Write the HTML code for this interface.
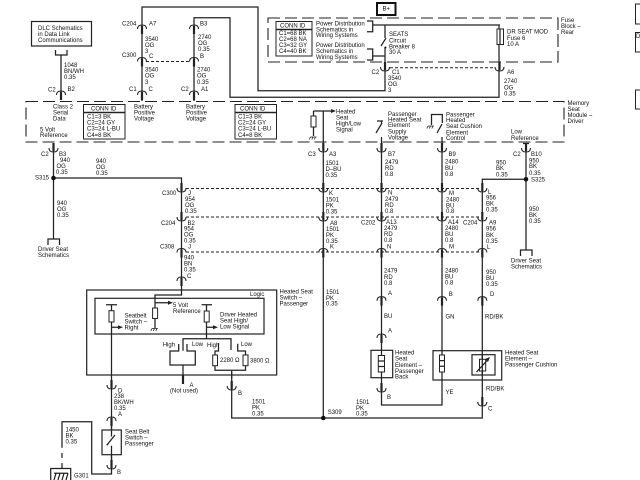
<!DOCTYPE html>
<html><head><meta charset="utf-8"><style>
html,body{margin:0;padding:0;background:#fff;width:640px;height:480px;overflow:hidden}
svg{display:block;filter:blur(.3px)}
text{font-family:"Liberation Sans",sans-serif;font-size:6px;fill:#111}
.w{fill:none;stroke:#222;stroke-width:1.25}
.b{fill:none;stroke:#222;stroke-width:1.25}
.d{fill:none;stroke:#222;stroke-width:1;stroke-dasharray:3 2}
.m{fill:none;stroke:#222;stroke-width:1.1;stroke-dasharray:12 5}
.r{fill:#fff;stroke:#222;stroke-width:1}
</style></head><body>
<svg width="640" height="480" viewBox="0 0 640 480" xmlns="http://www.w3.org/2000/svg">
<defs>
<g id="u"><path d="M-4.5,4Q-4.5,0 0,0Q4.5,0 4.5,4" fill="none" stroke="#222" stroke-width="1.1"/><path d="M0,1V9" stroke="#222" stroke-width="2.2"/></g>
<g id="n"><path d="M-4.5,-4Q-4.5,0 0,0Q4.5,0 4.5,-4" fill="none" stroke="#222" stroke-width="1.1"/><path d="M0,-9V-1" stroke="#222" stroke-width="2.2"/></g>
<g id="gnd"><path d="M-3,0H3M-3,0l-1.2,2.5M-.5,0l-1.2,2.5M2,0l-1.2,2.5" fill="none" stroke="#222" stroke-width=".8"/></g>
<path id="ar" d="M0,-2L5,0L0,2Z" fill="#222"/>
</defs>
<rect width="640" height="480" fill="#fff"/>

<!-- main wires -->
<path class="w" d="M142,25V7H258V90.7H385V47M385,25V38M194,25V17.7H230V97.3H499V25M372.7,25H500M372.7,56H385"/>
<path class="w" d="M142,25V101M194,25V101M61,55V92"/>
<path class="w" d="M53.5,143V239M53.5,178H181.5V295H155V328M526,143V250M526,179.3H482.3V405"/>
<path class="w" d="M323.3,111V418M381.5,137V405H442V137M231.7,372V418H482.3V405"/>
<path class="w" d="M111.5,305V436.7M111.5,445.7V474H91.7V421.7H62V447.7M62,453V458M62,463V468"/>

<!-- dashed -->
<path class="d" d="M146,61.5H190M390,67.7H495"/>
<path class="d" d="M186,188.5H480M186,217H480M186,252H480"/>
<path class="m" d="M268,18H558V62H268ZM558,18V62"/>
<path class="m" d="M26,101.5H564V142H26Z"/>

<!-- connectors -->
<use href="#u" x="142" y="25"/><use href="#u" x="194" y="25"/>
<use href="#u" x="142" y="57.5"/><use href="#u" x="194" y="57.5"/>
<use href="#u" x="142" y="91"/><use href="#u" x="194" y="91"/><use href="#u" x="61" y="91"/>
<use href="#n" x="385" y="71"/><use href="#n" x="499.5" y="71"/>
<use href="#n" x="53.5" y="152"/><use href="#n" x="323.3" y="152"/><use href="#n" x="381.5" y="152"/><use href="#n" x="442" y="152"/><use href="#n" x="526" y="152"/>
<use href="#n" x="181.5" y="192"/><use href="#n" x="323.3" y="192"/><use href="#n" x="381.5" y="192"/><use href="#n" x="442" y="192"/><use href="#n" x="482.3" y="192"/>
<use href="#n" x="181.5" y="221"/><use href="#n" x="323.3" y="221"/><use href="#n" x="381.5" y="221"/><use href="#n" x="442" y="221"/><use href="#n" x="482.3" y="221"/>
<use href="#u" x="181.5" y="248.5"/><use href="#u" x="323.3" y="248.5"/><use href="#u" x="381.5" y="248.5"/><use href="#u" x="442" y="248.5"/><use href="#u" x="482.3" y="248.5"/>
<use href="#u" x="181.5" y="277"/>
<use href="#u" x="381.5" y="296.7"/><use href="#u" x="442" y="296.7"/><use href="#u" x="482.3" y="296.7"/>
<use href="#u" x="381.5" y="334"/>
<use href="#n" x="381.5" y="392"/><use href="#n" x="482.3" y="406"/>
<use href="#n" x="111.5" y="389"/><use href="#n" x="231.7" y="390"/>
<use href="#u" x="111.5" y="417"/><use href="#n" x="111.5" y="469"/>

<!-- nodes -->
<circle cx="53.5" cy="178" r="2.3" fill="#111"/><circle cx="526" cy="179.3" r="2.3" fill="#111"/><circle cx="323.3" cy="418" r="2.3" fill="#111"/>

<!-- DLC -->
<rect x="31.5" y="21.5" width="60" height="24.5" fill="#fff" stroke="#222" stroke-width="1.2"/>
<path class="b" d="M55.5,50V55H67V50"/>
<!-- driver seat brackets -->
<path class="b" d="M48,245V239H59.5V245M520.5,256V250H532V256"/>

<!-- B+ -->
<rect x="377" y="3" width="18.5" height="12" fill="#fff" stroke="#111" stroke-width="2"/>

<!-- conn boxes -->
<rect x="83.5" y="104.5" width="41.5" height="34.5" class="r"/><path d="M83.5,112.5H125" stroke="#222" stroke-width="1.6"/>
<rect x="235" y="104.5" width="41.5" height="34.5" class="r"/><path d="M235,112.5H276.5" stroke="#222" stroke-width="1.6"/>
<rect x="276" y="21.5" width="36" height="34.5" class="r"/><path d="M276,29.5H312" stroke="#222" stroke-width="1.6"/>

<!-- power brackets / breaker / fuse -->
<path class="b" d="M367,21H372.7V31.7H367M367,49H372.7V60H367"/>
<path class="w" d="M381,46L386,38"/><circle cx="385.5" cy="47.5" r="1" fill="#111"/>
<rect x="497" y="29" width="6.5" height="15.5" class="r"/><path class="w" d="M500,29V44.5"/>

<!-- module internals -->
<path class="w" d="M313.5,111H333M313.5,111V136"/><use href="#ar" x="331" y="111"/>
<rect x="311" y="116" width="5" height="11" class="r"/><use href="#gnd" x="313.5" y="137"/>
<path class="w" d="M377,121H383M381.5,121V123M382,123L376,133"/>
<path class="w" d="M431.5,125V114.5H442.3V123M442,124L437,133"/><use href="#gnd" x="431" y="126"/>
<path class="w" d="M523,143.5H529"/>

<!-- logic box -->
<rect x="86.7" y="290" width="190" height="85" fill="none" stroke="#222" stroke-width="1.2"/>
<rect x="95" y="298.3" width="169" height="35.7" fill="none" stroke="#222" stroke-width="1.2"/>
<path class="w" d="M106,304.7H117M201.6,304.7H212M206.5,304.7V338.7"/>
<rect x="109" y="310.7" width="5" height="11.3" class="r"/>
<rect x="204.2" y="311" width="5" height="11" class="r"/>
<rect x="152.6" y="308" width="5" height="10.5" class="r"/>
<use href="#gnd" x="155" y="328.5"/>
<path class="w" d="M155,302.7H168M112,327.3H120M207,327.3H215"/>
<use href="#ar" x="168" y="302.7"/><use href="#ar" x="118" y="327.3"/><use href="#ar" x="213" y="327.3"/>
<path class="w" d="M183,350.7V338.7H231V350M178.7,344V351H170V365H195.3V351H187V344"/>
<path class="w" d="M183,365V378"/><path d="M183,375V384" stroke="#222" stroke-width="2.2"/>
<path class="w" d="M215,355V351H218.5V343M245.5,355V351H237.7V343.7"/>
<rect x="212.7" y="355" width="4.8" height="10.7" class="r"/><rect x="243" y="355" width="5" height="10.7" class="r"/>
<path class="w" d="M215,365.7V370.3H245.5V365.7M231.7,370.3V378"/>

<!-- seat belt switch -->
<rect x="102" y="430" width="19.3" height="24.7" fill="#fff" stroke="#222" stroke-width="1.2"/>
<path class="w" d="M111.5,426V436.5M111.5,445.7V463M106.7,445.3L115,435"/>
<path class="w" d="M50.7,480V468.5H70.7V480"/>
<path class="w" d="M54,473.3H68M56,473.3L54,480M60,473.3L58,480M64,473.3L62,480M68,473.3L66,480"/>

<!-- heater back -->
<rect x="371" y="350.3" width="21.7" height="27.4" fill="none" stroke="#222" stroke-width="1.2"/>
<rect x="378.3" y="355.5" width="6.2" height="16.5" class="r"/><path class="w" d="M378.3,361H384.5M378.3,366.5H384.5"/>
<!-- cushion -->
<rect x="433" y="350.7" width="68.7" height="29.3" fill="none" stroke="#222" stroke-width="1.2"/>
<rect x="439.5" y="355" width="5" height="17" class="r"/><path class="w" d="M439.5,360.6H444.5M439.5,366.3H444.5"/>
<rect x="472" y="354.7" width="23" height="20.3" fill="none" stroke="#222" stroke-width="1.2"/>
<rect x="479.5" y="359.3" width="6.2" height="11.7" class="r"/>
<path class="w" d="M482.3,354.7V375M476.5,372L488,359.5"/><path d="M490,357L485,359L488,362Z" fill="#222"/>

<!-- right edge boxes -->
<path d="M640,4H635.5V24H640M640,32.5H635.5V52H640M640,90H635.5V109H640" fill="none" stroke="#222" stroke-width="1"/>

<g transform="translate(0,2)">
<text x="382.5" y="8.5">B+</text>
<text x="38" y="28">DLC Schematics</text><text x="38" y="34">in Data Link</text><text x="38" y="40">Communications</text>
<text x="64" y="65">1048</text><text x="64" y="71">BN/WH</text><text x="64" y="77">0.35</text>
<text x="48" y="89.5">C2</text><text x="67.5" y="89">B2</text>
<text x="122" y="23.7">C204</text><text x="149" y="23.7">A7</text>
<text x="145" y="39">3540</text><text x="145" y="45">OG</text><text x="145" y="51">3</text><text x="149" y="56">C</text>
<text x="122" y="55">C300</text>
<text x="145" y="69.5">3540</text><text x="145" y="75.5">OG</text><text x="145" y="82">3</text>
<text x="129" y="89">C1</text><text x="148.5" y="89">C</text>
<text x="200" y="23.7">B3</text>
<text x="198" y="37">2740</text><text x="198" y="43">OG</text><text x="198" y="49">0.35</text><text x="200" y="56">B</text>
<text x="197" y="69.5">2740</text><text x="197" y="75.5">OG</text><text x="197" y="82">0.35</text>
<text x="181" y="89">C2</text><text x="201" y="89">A1</text>

<text x="53" y="106.5">Class 2</text><text x="53" y="112.5">Serial</text><text x="53" y="118.5">Data</text>
<text x="40" y="129.5">5 Volt</text><text x="40" y="135">Reference</text>
<text x="134" y="106.5">Battery</text><text x="134" y="112.5">Positive</text><text x="134" y="118.5">Voltage</text>
<text x="186" y="106.5">Battery</text><text x="186" y="112.5">Positive</text><text x="186" y="118.5">Voltage</text>
<text x="91" y="108.5">CONN ID</text><text x="87" y="116.7">C1=3 BK</text><text x="87" y="122.7">C2=24 GY</text><text x="87" y="128.7">C3=24 L-BU</text><text x="87" y="135">C4=8 BK</text>
<text x="240" y="108.5">CONN ID</text><text x="238" y="116.7">C1=3 BK</text><text x="238" y="122.7">C2=24 GY</text><text x="238" y="128.7">C3=24 L-BU</text><text x="238" y="135">C4=8 BK</text>
<text x="280" y="25.5">CONN ID</text><text x="279" y="33">C1=68 BK</text><text x="279" y="39">C2=68 NA</text><text x="279" y="45">C3=32 GY</text><text x="279" y="51">C4=40 BK</text>

<text x="316" y="23.5">Power Distribution</text><text x="316" y="29.5">Schematics in</text><text x="316" y="35">Wiring Systems</text>
<text x="316" y="45">Power Distribution</text><text x="316" y="51">Schematics in</text><text x="316" y="57">Wiring Systems</text>
<text x="389" y="34">SEATS</text><text x="389" y="40.5">Circuit</text><text x="389" y="46.5">Breaker 8</text><text x="389" y="52">30 A</text>
<text x="507" y="31.7">DR SEAT MOD</text><text x="507" y="38">Fuse 6</text><text x="507" y="44">10 A</text>
<text x="561" y="20">Fuse</text><text x="561" y="26">Block –</text><text x="561" y="32">Rear</text>
<text x="371.5" y="72">C2</text><text x="392" y="72">C1</text><text x="388" y="78">3540</text><text x="388" y="84">OG</text><text x="388" y="90">3</text>
<text x="507" y="72">A6</text><text x="504" y="81">2740</text><text x="504" y="87.5">OG</text><text x="504" y="93.5">0.35</text>
<text x="567.5" y="103">Memory</text><text x="567.5" y="109">Seat</text><text x="567.5" y="115">Module –</text><text x="567.5" y="121">Driver</text>

<text x="336" y="111.5">Heated</text><text x="336" y="117.5">Seat</text><text x="336" y="123.5">High/Low</text><text x="336" y="129.5">Signal</text>
<text x="388" y="114">Passenger</text><text x="388" y="119.5">Heated Seat</text><text x="388" y="125">Element</text><text x="388" y="131.5">Supply</text><text x="388" y="137.5">Voltage</text>
<text x="446" y="114.3">Passenger</text><text x="446" y="120">Heated</text><text x="446" y="126">Seat Cushion</text><text x="446" y="132.3">Element</text><text x="446" y="138">Control</text>
<text x="511" y="131.7">Low</text><text x="511" y="138">Reference</text>

<text x="41" y="154">C2</text><text x="59" y="154">B3</text>
<text x="60" y="160">940</text><text x="56.5" y="166">OG</text><text x="56" y="172">0.35</text>
<text x="96" y="161">940</text><text x="96" y="167">OG</text><text x="96" y="173">0.35</text>
<text x="35" y="177.7">S315</text>
<text x="57" y="203">940</text><text x="57" y="209">OG</text><text x="57" y="215">0.35</text>
<text x="38" y="249">Driver Seat</text><text x="38" y="255">Schematics</text>

<text x="162" y="193">C300</text><text x="188" y="193">J</text>
<text x="185" y="199">954</text><text x="185" y="205">OG</text><text x="185" y="211">0.35</text>
<text x="161" y="223">C204</text><text x="187.5" y="223">B2</text>
<text x="184" y="228.5">954</text><text x="184" y="234.5">OG</text><text x="184" y="240.5">0.35</text>
<text x="160" y="246.5">C308</text><text x="188" y="246.5">J</text>
<text x="184" y="257.5">940</text><text x="184" y="263.5">BN</text><text x="184" y="269.5">0.35</text>
<text x="187" y="276">C</text>

<text x="308" y="154">C3</text><text x="329" y="154">A3</text>
<text x="325.5" y="163">1501</text><text x="325.5" y="169">D–BU</text><text x="325.5" y="175">0.35</text>
<text x="329" y="193">K</text>
<text x="325.7" y="199.7">1501</text><text x="325.7" y="205.7">PK</text><text x="325.7" y="211.7">0.35</text>
<text x="330" y="223">A8</text>
<text x="326" y="229">1501</text><text x="326" y="235">PK</text><text x="326" y="241">0.35</text>
<text x="330" y="246.5">K</text>
<text x="326" y="292">1501</text><text x="326" y="298">PK</text><text x="326" y="303.7">0.35</text>
<text x="327.7" y="412">S309</text>
<text x="252" y="401.5">1501</text><text x="252" y="407.5">PK</text><text x="252" y="413.5">0.35</text>
<text x="356" y="402">1501</text><text x="356" y="408">PK</text><text x="356" y="413.5">0.35</text>

<text x="388" y="154">B7</text>
<text x="385" y="162">2479</text><text x="385" y="168">RD</text><text x="385" y="174">0.8</text>
<text x="388" y="192.7">N</text>
<text x="385" y="199">2479</text><text x="385" y="205">RD</text><text x="385" y="211">0.8</text>
<text x="361" y="222.5">C202</text><text x="386" y="222">A13</text>
<text x="384" y="228">2479</text><text x="384" y="234">RD</text><text x="384" y="240">0.8</text>
<text x="387" y="246.5">N</text>
<text x="384" y="270.5">2479</text><text x="384" y="277">RD</text><text x="384" y="283">0.8</text>
<text x="388" y="293">A</text>
<text x="384" y="316">BU</text><text x="388" y="330.7">A</text>
<text x="395" y="352.7">Heated</text><text x="395" y="358.7">Seat</text><text x="395" y="365">Element –</text><text x="395" y="371">Passenger</text><text x="395" y="376.7">Back</text>
<text x="387" y="397">B</text>

<text x="448.5" y="154">B9</text>
<text x="445" y="161.7">2480</text><text x="445" y="168">BU</text><text x="445" y="174">0.8</text>
<text x="449" y="193">M</text>
<text x="446" y="199.7">2480</text><text x="446" y="205.7">BU</text><text x="446" y="211">0.8</text>
<text x="448" y="222">A14</text>
<text x="445" y="228">2480</text><text x="445" y="234">BU</text><text x="445" y="240">0.8</text>
<text x="449" y="246.5">M</text>
<text x="445" y="270.5">2480</text><text x="445" y="276.7">BU</text><text x="445" y="282.7">0.8</text>
<text x="448.7" y="294">B</text>
<text x="445.5" y="316.7">GN</text><text x="445.5" y="392">YE</text>

<text x="505" y="352.5">Heated Seat</text><text x="505" y="358.7">Element –</text><text x="505" y="364.7">Passenger Cushion</text>
<text x="485" y="316.7">RD/BK</text><text x="486" y="388.5">RD/BK</text><text x="488" y="408.7">C</text>

<text x="513" y="154">C2</text><text x="531" y="154">B10</text>
<text x="529" y="160.5">950</text><text x="529" y="166">BK</text><text x="529" y="173">0.35</text>
<text x="496" y="162.7">950</text><text x="496" y="168">BK</text><text x="496" y="174.5">0.35</text>
<text x="531" y="179.5">S325</text>
<text x="529" y="209">950</text><text x="529" y="215">BK</text><text x="529" y="221">0.35</text>
<text x="511" y="260.7">Driver Seat</text><text x="511" y="266.7">Schematics</text>
<text x="488" y="192">L</text>
<text x="486" y="197.7">956</text><text x="486" y="203.7">BK</text><text x="486" y="209.7">0.35</text>
<text x="463" y="222.7">C204</text><text x="489" y="222.7">A9</text>
<text x="486" y="228.5">956</text><text x="486" y="235">BK</text><text x="486" y="241">0.35</text>
<text x="487" y="247">L</text>
<text x="486" y="272">950</text><text x="486" y="278">BU</text><text x="486" y="284">0.35</text>
<text x="490" y="294">D</text>

<text x="250" y="294">Logic</text>
<text x="279.5" y="291.3">Heated Seat</text><text x="279.5" y="297.3">Switch –</text><text x="279.5" y="303.3">Passenger</text>
<text x="173" y="305">5 Volt</text><text x="173" y="311">Reference</text>
<text x="124.5" y="315.5">Seatbelt</text><text x="124.5" y="321.5">Switch –</text><text x="124.5" y="327.5">Right</text>
<text x="220" y="314.5">Driver Heated</text><text x="220" y="320.5">Seat High/</text><text x="220" y="326.5">Low Signal</text>
<text x="162.7" y="344.5">High</text><text x="192" y="344">Low</text><text x="207" y="345">High</text><text x="241" y="344">Low</text>
<text x="220" y="360">2280 Ω</text><text x="250" y="360.5">3800 Ω</text>
<text x="189.5" y="385">A</text><text x="170" y="390.5">(Not used)</text>
<text x="238" y="393">B</text>
<text x="118" y="390.5">D</text>
<text x="114" y="396">238</text><text x="114" y="402">BK/WH</text><text x="114" y="408">0.35</text>
<text x="118" y="414">A</text>
<text x="125" y="431.5">Seat Belt</text><text x="125" y="437.5">Switch –</text><text x="125" y="443.5">Passenger</text>
<text x="117" y="472">B</text>
<text x="65.5" y="429.5">1450</text><text x="65.5" y="435.5">BK</text><text x="65.5" y="441.5">0.35</text>
<text x="74" y="475.5">G301</text>
<text x="636" y="36">D</text>
</g>
</svg>
</body></html>
